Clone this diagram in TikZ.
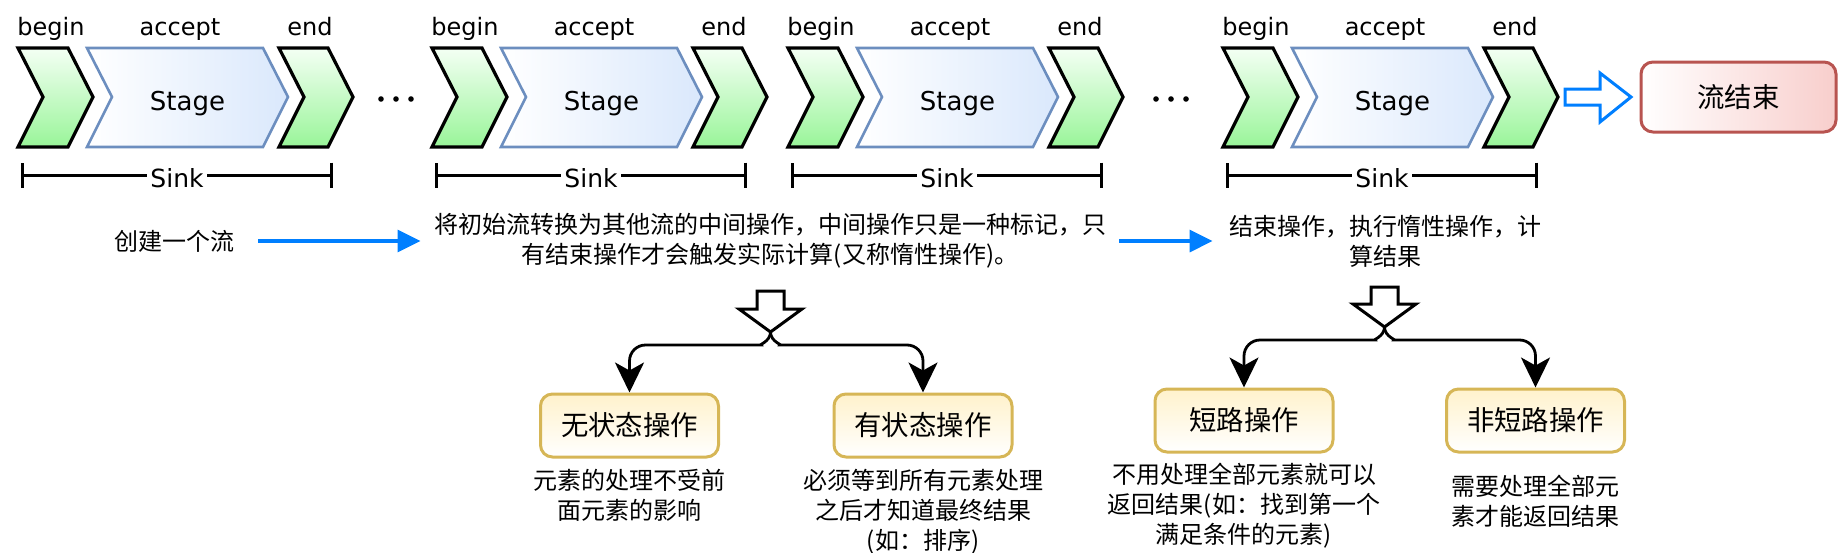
\documentclass[tikz,border=0pt]{standalone}
\usepackage{fontspec}
\usepackage{tikz}
\usetikzlibrary{arrows.meta}
\newfontfamily\cjk{Noto Sans CJK SC}
\newfontfamily\comic{DejaVu Sans}

\definecolor{chevtop}{RGB}{244,255,244}
\definecolor{chevbot}{RGB}{153,245,153}
\definecolor{stageline}{HTML}{6C8EBF}
\definecolor{stagefill}{HTML}{DAE8FC}
\definecolor{flowblue}{HTML}{007FFF}
\definecolor{endline}{HTML}{B85450}
\definecolor{endfill}{HTML}{F8CECC}
\definecolor{opline}{HTML}{D6B656}
\definecolor{opfill}{HTML}{FFF2CC}

\tikzset{
  tag/.style={font=\comic\fontsize{12}{14}\selectfont, inner sep=0pt},
  txt/.style={font=\cjk\fontsize{12}{15}\selectfont, inner sep=0pt, align=center},
  chev/.style={draw=black, line width=1.6pt, line join=miter, top color=chevtop, bottom color=chevbot},
  stagebox/.style={draw=stageline, line width=1.3pt, line join=miter, left color=white, right color=stagefill},
  sinkbar/.style={line width=1.5pt, {Bar[width=12.5pt]}-{Bar[width=12.5pt]}},
  flow/.style={draw=flowblue, line width=1.6pt, -{Triangle[length=11.5pt, width=11pt]}},
  hollow/.style={draw=black, line width=1.5pt, fill=white, line join=miter},
  tree/.style={draw=black, line width=1.4pt, rounded corners=8pt, -{Stealth[length=15pt, width=14.5pt, inset=4pt]}},
  opbox/.style={draw=opline, line width=1.5pt, rounded corners=6pt, top color=opfill, bottom color=white,
    minimum width=89pt, minimum height=31.5pt, font=\cjk\fontsize{13.7}{16}\selectfont},
  endbox/.style={draw=endline, line width=1.5pt, rounded corners=6pt, left color=white, right color=endfill,
    minimum width=97.5pt, minimum height=35pt, font=\cjk\fontsize{13.7}{16}\selectfont}
}

\begin{document}
\begin{tikzpicture}[x=0.5pt, y=-0.5pt]
  \useasboundingbox (0,0) rectangle (1842,552);

  % vier Sink-Gruppen: begin, Stage, end
  \foreach \gx/\n in {18/a, 432/b, 788/c, 1223/d} {
    \begin{scope}[shift={(\gx,0)}]
      \draw[chev] (0,48) -- (50,48) -- (75,97) -- (50,147) -- (0,147) -- (25,97) -- cycle;
      \draw[stagebox] (69,48) -- (245,48) -- (270,97) -- (245,147) -- (69,147) -- (94,97) -- cycle;
      \draw[chev] (261,48) -- (310,48) -- (335,97) -- (310,147) -- (261,147) -- (286,97) -- cycle;
      \node[tag, anchor=base] (begin-\n) at (33,35) {begin};
      \node[tag, anchor=base] (accept-\n) at (162,35) {accept};
      \node[tag, anchor=base] (end-\n) at (292,35) {end};
      \node[tag, anchor=base, font=\comic\fontsize{13}{15}\selectfont] (stage-\n) at (169.5,110) {Stage};
      % Klammer unter der Gruppe
      \coordinate (sinkL-\n) at (3,175);
      \coordinate (sinkR-\n) at (315,175);
      \draw[sinkbar] (sinkL-\n) -- (sinkR-\n);
      \node[tag, anchor=base, fill=white, inner xsep=1.5pt, font=\comic\fontsize{12.5}{14}\selectfont] (sink-\n) at (159,187) {Sink};
    \end{scope}
  }

  % Punkte zwischen den Gruppen
  \foreach \dx in {381, 396, 411, 1156, 1171, 1186}
    \fill (\dx,99) circle (2.8);

  % Pfeil zum Ende des Streams
  \draw[hollow, draw=flowblue] (1565,89) -- (1600,89) -- (1600,73) -- (1631,97) -- (1600,122) -- (1600,105) -- (1565,105) -- cycle;
  \node[endbox] (streamend) at (1738.5,97) {流结束};

  % Texte der drei Phasen
  \node[txt] (create) at (174,241) {创建一个流};
  \node[txt] (mid) at (770,241) {将初始流转换为其他流的中间操作，中间操作只是一种标记，只\\有结束操作才会触发实际计算(又称惰性操作)。};
  \node[txt] (term) at (1385,241) {结束操作，执行惰性操作，计\\算结果};
  \draw[flow, shorten <=12pt, shorten >=6.5pt] (create.east) -- (create.east -| mid.west);
  \draw[flow, shorten <=6.5pt, shorten >=8pt] (mid.east) -- (mid.east -| term.west);

  % Verzweigung: Zwischenoperationen
  \draw[hollow] (757,291) -- (784,291) -- (784,309) -- (802,309) -- (770.5,332) -- (739,309) -- (757,309) -- cycle;
  \coordinate (forkA) at (770.5,332);
  \node[opbox] (stateless) at (629.5,425.5) {无状态操作};
  \node[opbox] (stateful) at (923,425.5) {有状态操作};
  \draw[tree] (forkA) .. controls +(0,10) and +(12,0) .. +(-25,13) -| (stateless);
  \draw[tree] (forkA) .. controls +(0,10) and +(-12,0) .. +(25,13) -| (stateful);
  \node[txt, anchor=north] (statelessnote) at ([yshift=-5pt]stateless.south) {元素的处理不受前\\面元素的影响};
  \node[txt, anchor=north] (statefulnote) at ([yshift=-5pt]stateful.south) {必须等到所有元素处理\\之后才知道最终结果\\(如：排序)};

  % Verzweigung: Endoperationen
  \draw[hollow] (1371,287) -- (1398,287) -- (1398,304) -- (1416,304) -- (1384.5,327) -- (1353,304) -- (1371,304) -- cycle;
  \coordinate (forkB) at (1384.5,327);
  \node[opbox] (short) at (1244,420.5) {短路操作};
  \node[opbox] (nonshort) at (1535.5,420.5) {非短路操作};
  \draw[tree] (forkB) .. controls +(0,10) and +(12,0) .. +(-25,13) -| (short);
  \draw[tree] (forkB) .. controls +(0,10) and +(-12,0) .. +(25,13) -| (nonshort);
  \node[txt, anchor=north] (shortnote) at ([yshift=-4.5pt]short.south) {不用处理全部元素就可以\\返回结果(如：找到第一个\\满足条件的元素)};
  \node[txt, anchor=north] (nonshortnote) at ([yshift=-10.5pt]nonshort.south) {需要处理全部元\\素才能返回结果};
\end{tikzpicture}
\end{document}
